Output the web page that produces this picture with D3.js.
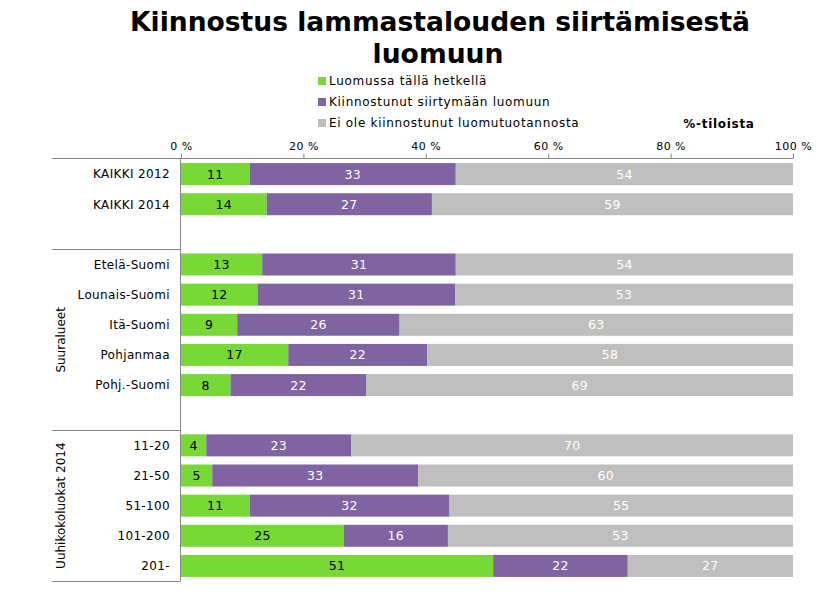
<!DOCTYPE html>
<html>
<head>
<meta charset="utf-8">
<script src="https://cdn.jsdelivr.net/npm/d3@7"></script>
<style>
  html, body { margin: 0; padding: 0; background: #fff; }
  svg { display: block; }
  text { font-family: "DejaVu Sans", Verdana, sans-serif; }
</style>
</head>
<body>
<svg id="chart" width="821" height="598"></svg>
<script>
// ---- Data ----
const categories = ["KAIKKI 2012", "KAIKKI 2014", "", "Etelä-Suomi", "Lounais-Suomi", "Itä-Suomi", "Pohjanmaa", "Pohj.-Suomi", "", "11-20", "21-50", "51-100", "101-200", "201-"];
const luomussa      = [11, 14, null, 13, 12, 9, 17, 8, null, 4, 5, 11, 25, 51];
const kiinnostunut  = [33, 27, null, 31, 31, 26, 22, 22, null, 23, 33, 32, 16, 22];
const eiKiinnostunut= [54, 59, null, 54, 53, 63, 58, 69, null, 70, 60, 55, 53, 27];
const seriesNames = ["Luomussa tällä hetkellä", "Kiinnostunut siirtymään luomuun", "Ei ole kiinnostunut luomutuotannosta"];
const groupLabels = ["", "Suuralueet", "Uuhikokoluokat 2014"];
const groupStarts = [0, 3, 9];
const tickValues = [0, 20, 40, 60, 80, 100];
const titleLines = ["Kiinnostus lammastalouden siirtämisestä", "luomuun"];
const axisTitle = "%-tiloista";

// ---- Styles ----
const colors = ["#77D836", "#8064A2", "#BFBFBF"];
const labelColors = ["#000", "#fff", "#fff"];
const axisColor = "#868686";

const svg = d3.select("#chart");

const x = d3.scaleLinear().domain([0, 100]).range([181, 793]);
const y = d3.scaleBand().domain(d3.range(categories.length)).range([159, 581])
  .paddingInner(0.27).paddingOuter(0.135);

// Title
svg.append("text").attr("x", 440).attr("y", 31).attr("text-anchor", "middle")
  .attr("font-size", 27).attr("font-weight", "bold")
  .attr("textLength", 620).attr("lengthAdjust", "spacingAndGlyphs")
  .text(titleLines[0]);
svg.append("text").attr("x", 438).attr("y", 63).attr("text-anchor", "middle")
  .attr("font-size", 27).attr("font-weight", "bold")
  .attr("textLength", 131).attr("lengthAdjust", "spacingAndGlyphs")
  .text(titleLines[1]);

// Legend
const legend = svg.append("g");
seriesNames.forEach((name, i) => {
  const cy = 81 + i * 21;
  legend.append("rect").attr("x", 318).attr("y", cy - 4).attr("width", 8).attr("height", 8).attr("fill", colors[i]);
  legend.append("text").attr("x", 329).attr("y", cy).attr("dy", "0.35em")
    .attr("font-size", 12).attr("letter-spacing", 0.7).attr("fill", "#000").text(name);
});

// Axis title
svg.append("text").attr("x", 719).attr("y", 128).attr("text-anchor", "middle")
  .attr("font-size", 12).attr("letter-spacing", 0.7).attr("font-weight", "bold").text(axisTitle);

// Stacked normalized data
const rows = categories.map((c, i) => {
  const vals = [luomussa[i], kiinnostunut[i], eiKiinnostunut[i]];
  if (vals[0] == null) return null;
  const tot = d3.sum(vals);
  let acc = 0;
  return vals.map((v, k) => {
    const s = { i, k, v, x0: acc / tot * 100, x1: (acc + v) / tot * 100 };
    acc += v;
    return s;
  });
}).filter(d => d);

const segs = rows.flat();
svg.append("g").selectAll("rect").data(segs).join("rect")
  .attr("x", d => x(d.x0)).attr("width", d => x(d.x1) - x(d.x0))
  .attr("y", d => y(d.i)).attr("height", y.bandwidth())
  .attr("fill", d => colors[d.k]);

svg.append("g").selectAll("text").data(segs).join("text")
  .attr("x", d => (x(d.x0) + x(d.x1)) / 2)
  .attr("y", d => y(d.i) + y.bandwidth() / 2)
  .attr("dy", "0.36em").attr("text-anchor", "middle")
  .attr("font-size", 12.5).attr("letter-spacing", 0.3).attr("fill", d => labelColors[d.k])
  .text(d => d.v);

// Value axis (top)
const xAxis = d3.axisTop(x).tickValues(tickValues).tickFormat(d => d + " %").tickSize(5).tickSizeOuter(0);
const gx = svg.append("g").attr("transform", "translate(0,158.5)").call(xAxis);
gx.select(".domain").remove();
gx.selectAll(".tick line").attr("stroke", axisColor);
gx.selectAll(".tick text").attr("font-size", 11).attr("letter-spacing", 0.5).attr("fill", "#000").attr("y", -9)
  .attr("font-family", "DejaVu Sans, Verdana, sans-serif");
svg.append("line").attr("x1", 52).attr("x2", 793).attr("y1", 158.5).attr("y2", 158.5).attr("stroke", axisColor);

// Category axis vertical line
const yBot = y.range()[1];
svg.append("line").attr("x1", 180.5).attr("x2", 180.5).attr("y1", 158).attr("y2", yBot + 0.5).attr("stroke", axisColor);

// Category labels
svg.append("g").selectAll("text").data(categories.map((c, i) => ({ c, i })).filter(d => d.c))
  .join("text")
  .attr("x", 170).attr("y", d => y(d.i) + y.bandwidth() / 2).attr("dy", "0.36em")
  .attr("text-anchor", "end").attr("font-size", 12).attr("letter-spacing", 0.35)
  .attr("fill", "#000").text(d => d.c);

// Group separators and labels
const step = y.step();
const boundary = i => y(i) - y.paddingInner() * step / 2;
groupStarts.forEach((s, g) => {
  const yb = Math.round(boundary(s)) + 0.5;
  if (g > 0) svg.append("line").attr("x1", 52).attr("x2", 180).attr("y1", yb).attr("y2", yb).attr("stroke", axisColor);
  if (groupLabels[g]) {
    const yEnd = g < groupStarts.length - 1 ? boundary(groupStarts[g + 1]) : yBot;
    const yc = (boundary(s) + yEnd) / 2;
    svg.append("text").attr("transform", `translate(61,${yc}) rotate(-90)`)
      .attr("text-anchor", "middle").attr("dy", "0.36em")
      .attr("font-size", 12).attr("fill", "#000").text(groupLabels[g]);
  }
});
svg.append("line").attr("x1", 52).attr("x2", 180).attr("y1", Math.round(yBot) + 0.5).attr("y2", Math.round(yBot) + 0.5).attr("stroke", axisColor);
</script>
</body>
</html>
